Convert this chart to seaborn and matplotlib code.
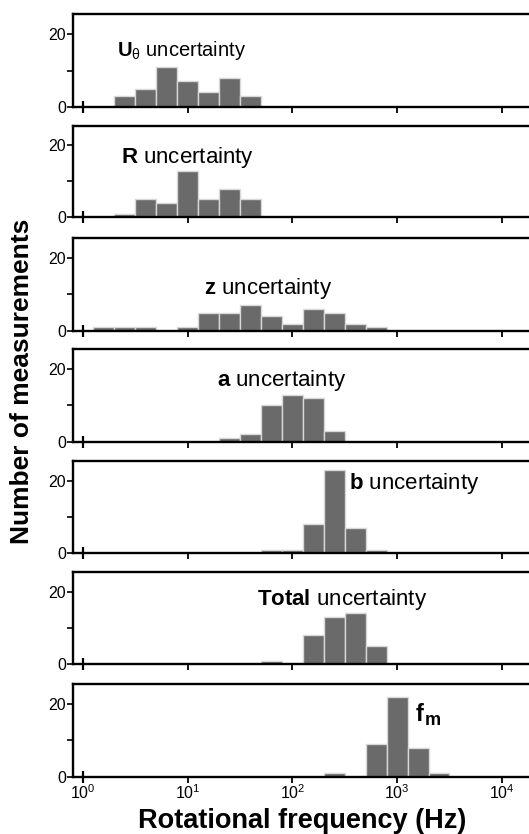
import numpy as np
import pandas as pd
import matplotlib
matplotlib.use("Agg")
import matplotlib.pyplot as plt
import seaborn as sns

# ---- data -------------------------------------------------------------
# common histogram bin edges, in log10(Hz)
bin_edges_log10 = [0.1, 0.3, 0.5, 0.7, 0.9, 1.1, 1.3, 1.5, 1.7, 1.9,
                   2.1, 2.3, 2.5, 2.7, 2.9, 3.1, 3.3, 3.5]

panel_names = ["U_theta", "R", "z", "a", "b", "Total", "fm"]

counts_U = [0, 3, 5, 11, 7, 4, 8, 3, 0, 0, 0, 0, 0, 0, 0, 0, 0]
counts_R = [0, 1, 5, 4, 13, 5, 8, 5, 0, 0, 0, 0, 0, 0, 0, 0, 0]
counts_z = [1, 1, 1, 0, 1, 5, 5, 7, 4, 2, 6, 5, 2, 1, 0, 0, 0]
counts_a = [0, 0, 0, 0, 0, 0, 1, 2, 10, 13, 12, 3, 0, 0, 0, 0, 0]
counts_b = [0, 0, 0, 0, 0, 0, 0, 0, 1, 1, 8, 23, 7, 1, 0, 0, 0]
counts_total = [0, 0, 0, 0, 0, 0, 0, 0, 1, 0, 8, 13, 14, 5, 0, 0, 0]
counts_fm = [0, 0, 0, 0, 0, 0, 0, 0, 0, 0, 0, 1, 0, 9, 22, 8, 1]

all_counts = [counts_U, counts_R, counts_z, counts_a, counts_b,
              counts_total, counts_fm]

x_ticks = [1, 10, 100, 1000, 10000]
y_major = [0, 20]
y_minor = [10]

# ---- style ------------------------------------------------------------
sns.set_style("ticks")
plt.rcParams["font.family"] = ["Liberation Sans", "DejaVu Sans"]
plt.rcParams["mathtext.fontset"] = "custom"
plt.rcParams["mathtext.rm"] = "Liberation Sans"
plt.rcParams["mathtext.bf"] = "Liberation Sans:bold"
plt.rcParams["mathtext.it"] = "Liberation Sans:italic"
plt.rcParams["text.color"] = "black"
plt.rcParams["xtick.color"] = "black"
plt.rcParams["ytick.color"] = "black"
plt.rcParams["axes.labelcolor"] = "black"

W, H = 529, 834
fig = plt.figure(figsize=(W / 100, H / 100), dpi=100)

# panel layout (pixel rows top/bottom)
panel_rows = [(14, 107), (125.7, 217.3), (237.7, 331), (349.3, 441.7),
              (461, 553.3), (571.7, 664.3), (684.3, 776.7)]
left_px, right_px = 73, 538.4

edges = np.array(bin_edges_log10)
centers_hz = 10 ** ((edges[:-1] + edges[1:]) / 2)

labels = [
    (r"$\mathbf{U}_{\mathrm{θ}}$ uncertainty", 2.1, 14.1, 14.5),
    (r"$\mathbf{R}$ uncertainty", 2.29, 15.0, 16),
    (r"$\mathbf{z}$ uncertainty", 14.3, 10.2, 16),
    (r"$\mathbf{a}$ uncertainty", 18.9, 15.5, 16),
    (r"$\mathbf{b}$ uncertainty", 350, 17.9, 16),
    (r"$\mathbf{Total}$ uncertainty", 45.6, 16.4, 16),
]

for i, (cnts, (top, bot)) in enumerate(zip(all_counts, panel_rows)):
    ax = fig.add_axes([left_px / W, 1 - bot / H, (right_px - left_px) / W,
                       (bot - top) / H])
    df = pd.DataFrame({"freq": centers_hz, "n": cnts})
    sns.histplot(data=df, x="freq", weights="n", bins=list(bin_edges_log10),
                 log_scale=True, stat="count", color="#6a6a6a",
                 edgecolor="#d8d8d8", linewidth=1.0, alpha=1.0, ax=ax)
    ax.set_xlim(10 ** -0.0955, 10 ** ((right_px - 83) / 104.7))
    ax.set_ylim(0, 25.5)
    ax.set_xticks(x_ticks)
    ax.xaxis.set_minor_locator(matplotlib.ticker.NullLocator())
    ax.set_yticks(y_major)
    ax.set_yticks(y_minor, minor=True)
    ax.set_xlabel("")
    ax.set_ylabel("")
    for sp in ["left", "bottom", "top", "right"]:
        ax.spines[sp].set_linewidth(1.7)
        ax.spines[sp].set_color("black")
    ax.tick_params(axis="y", which="both", length=4, width=1.2, pad=1,
                   labelsize=11.5, colors="black")
    ax.tick_params(axis="x", which="major", length=4, width=1.3, pad=1,
                   labelsize=11.5, colors="black")
    ticks = ax.xaxis.get_major_ticks(len(x_ticks))
    ticks[0].tick1line.set_marker("|")
    ticks[0].tick1line.set_markersize(8)
    ticks[0].tick1line.set_markeredgewidth(1.6)
    if i < 6:
        ax.tick_params(axis="x", labelbottom=False)
        txt, xx, yy, fs = labels[i]
        ax.text(xx, yy, txt, fontsize=fs, va="baseline", ha="left")
    else:
        ax.text(1514, 15.3, "f", fontsize=17, fontweight="bold",
                va="baseline", ha="left")
        ax.annotate("m", xy=(1514, 15.3), xytext=(6.5, -2.5),
                    textcoords="offset points", fontsize=13,
                    fontweight="bold", va="baseline", ha="left")

fig.text(22 / W, 1 - 381 / H, "Number of measurements", rotation=90,
         ha="center", va="center", fontsize=19, fontweight="bold")
fig.text(302.5 / W, 1 - 828 / H, "Rotational frequency (Hz)",
         ha="center", va="baseline", fontsize=19.5, fontweight="bold")

fig.savefig("out.png", dpi=100)
